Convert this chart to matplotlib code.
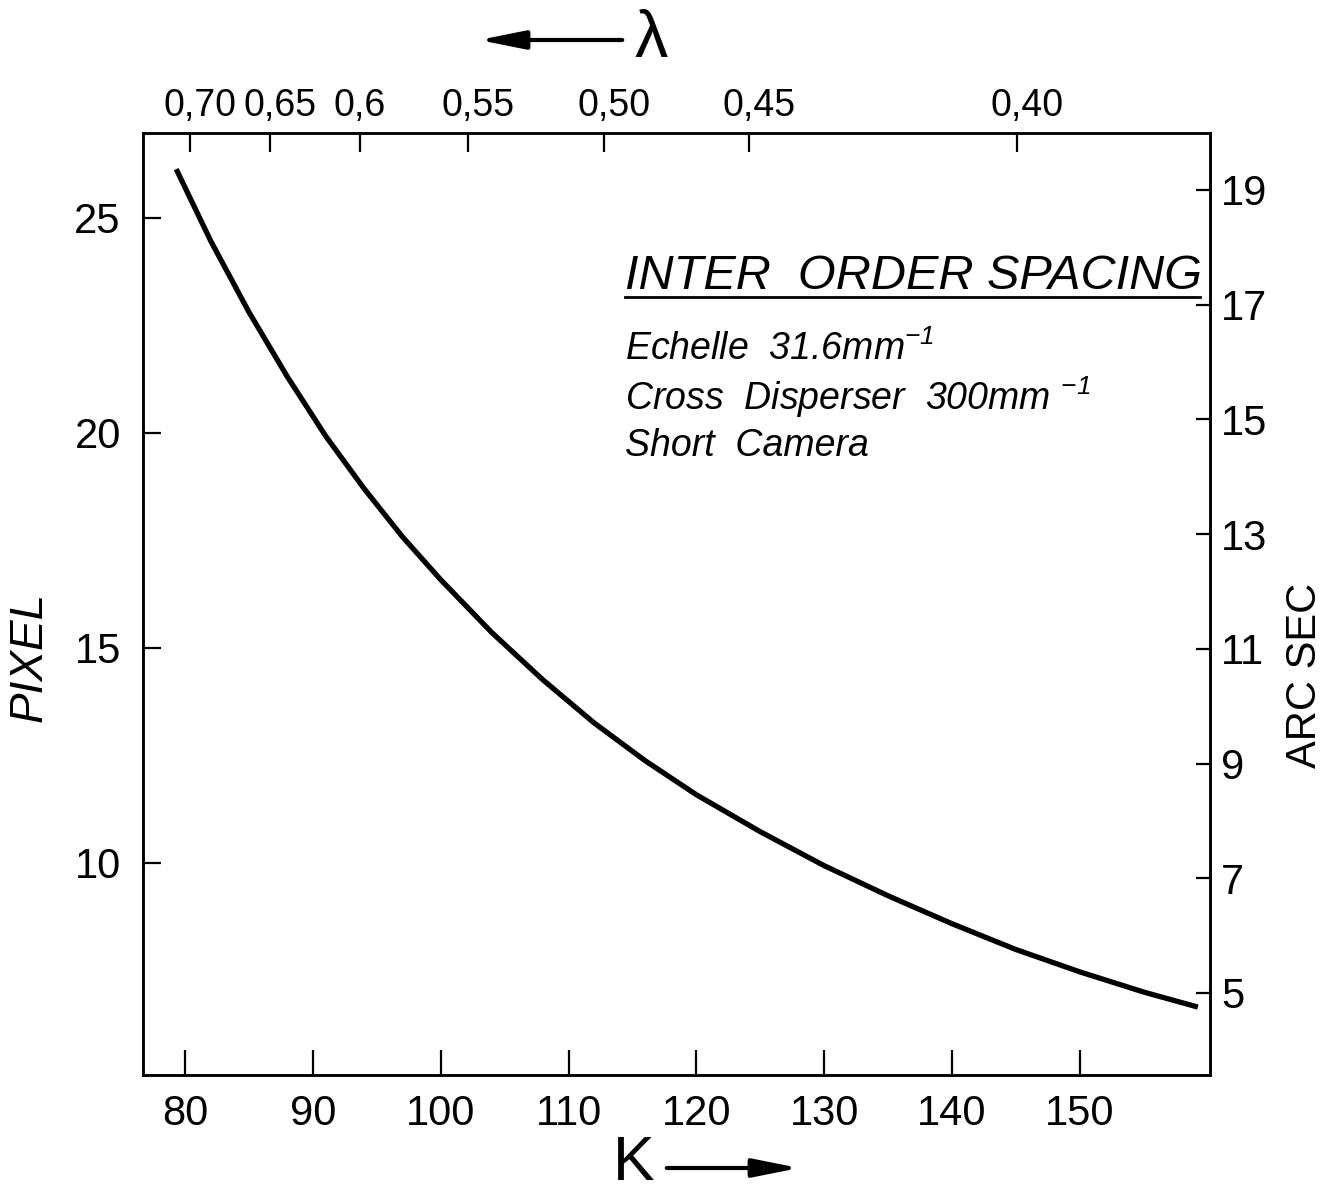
import matplotlib
matplotlib.use("Agg")
import matplotlib.pyplot as plt
from matplotlib.lines import Line2D

plt.rcParams["font.family"] = ["Liberation Sans", "DejaVu Sans"]
plt.rcParams["mathtext.fontset"] = "custom"
plt.rcParams["mathtext.it"] = "Liberation Sans:italic"
plt.rcParams["mathtext.rm"] = "Liberation Sans:italic"

# echelle order K vs. inter-order spacing in pixels
order_k = [79.3, 82, 85, 88, 91, 94, 97, 100, 104, 108, 112, 116,
           120, 125, 130, 135, 140, 145, 150, 155, 159.25]
spacing_px = [26.13, 24.46, 22.80, 21.30, 19.92, 18.70, 17.58, 16.58, 15.35, 14.25, 13.25, 12.37,
              11.58, 10.72, 9.93, 9.23, 8.58, 7.98, 7.46, 6.99, 6.64]

k_ticks = [80, 90, 100, 110, 120, 130, 140, 150]
px_ticks = [10, 15, 20, 25]
arcsec_ticks = [5, 7, 9, 11, 13, 15, 17, 19]

# wavelength (micron) scale along the top, placed at the matching order
lambda_k = [80.4, 86.6, 93.7, 102.1, 112.8, 124.1, 145.1]
lambda_labels = ["0,70", "0,65", "0,6", "0,55", "0,50", "0,45", "0,40"]

W, H = 1339, 1192
fig = plt.figure(figsize=(W / 100, H / 100), dpi=100)
ax = fig.add_axes([143 / W, 1 - 1075 / H, (1210 - 143) / W, (1075 - 132.6) / H])

ax.plot(order_k, spacing_px, color="black", lw=3.8, solid_capstyle="butt",
        solid_joinstyle="round")
ax.set_xlim(76.7, 160.2)
ax.set_ylim(5.06, 26.98)

for s in ax.spines.values():
    s.set_linewidth(1.8)

ax.set_xticks(k_ticks)
ax.set_yticks(px_ticks)
ax.tick_params(axis="x", direction="in", length=18, width=1.6, labelsize=30, pad=14)
ax.tick_params(axis="y", direction="in", length=13, width=1.6, labelsize=30, pad=16)

# arc seconds on the right
ax_r = ax.twinx()
ax_r.set_ylim(3.57, 20.0)
ax_r.set_yticks(arcsec_ticks)
ax_r.tick_params(direction="in", length=10, width=1.6, labelsize=30, pad=8)
for s in ax_r.spines.values():
    s.set_linewidth(1.8)

# top scale: ticks inside, labels aligned on the decimal comma
ax_t = ax.twiny()
ax_t.set_xlim(ax.get_xlim())
ax_t.set_xticks(lambda_k)
ax_t.set_xticklabels([])
ax_t.tick_params(direction="in", length=14, width=1.6)
for k, lab in zip(lambda_k, lambda_labels):
    ax_t.annotate(lab, xy=(k, 1), xycoords=("data", "axes fraction"),
                  xytext=(-19, 6), textcoords="offset points",
                  ha="left", va="bottom", fontsize=27)

fig.text(30 / W, 1 - 657 / H, "PIXEL", rotation=90, fontsize=33, style="italic",
         ha="center", va="center")
fig.text(1305 / W, 1 - 675 / H, "ARC SEC", rotation=90, fontsize=30,
         ha="center", va="center")

# axis direction arrows
head = "-|>,head_length=1.0,head_width=0.2"
fig.text(651 / W, 1 - 40 / H, "λ", fontsize=48, ha="center", va="center")
ax.annotate("", xy=(476 / W, 1 - 40 / H), xytext=(625 / W, 1 - 40 / H),
            xycoords="figure fraction", textcoords="figure fraction",
            arrowprops=dict(arrowstyle=head, lw=3, color="black", mutation_scale=28))
fig.text(634 / W, 1 - 1164 / H, "K", fontsize=45, ha="center", va="center")
ax.annotate("", xy=(802 / W, 1 - 1168 / H), xytext=(664 / W, 1 - 1168 / H),
            xycoords="figure fraction", textcoords="figure fraction",
            arrowprops=dict(arrowstyle=head, lw=3, color="black", mutation_scale=28))

# legend block
fig.text(625 / W, 1 - 289 / H, "INTER  ORDER SPACING", fontsize=35, style="italic",
         ha="left", va="baseline")
fig.add_artist(Line2D([625 / W, 1200 / W], [1 - 297 / H, 1 - 297 / H],
                      color="black", lw=2))
fig.text(625 / W, 1 - 360 / H, r"Echelle  31.6mm$^{-1}$", fontsize=27, style="italic",
         ha="left", va="baseline")
fig.text(625 / W, 1 - 410 / H, r"Cross  Disperser  300mm $^{-1}$", fontsize=27,
         style="italic", ha="left", va="baseline")
fig.text(625 / W, 1 - 456 / H, "Short  Camera", fontsize=27, style="italic",
         ha="left", va="baseline")

fig.savefig("out.png", dpi=100)
